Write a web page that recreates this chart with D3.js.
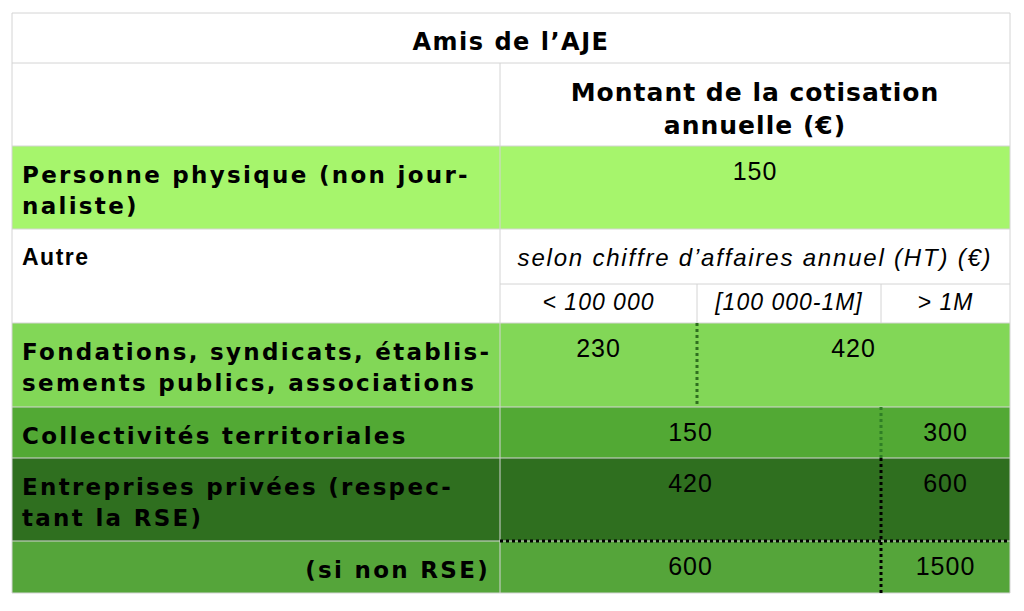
<!DOCTYPE html>
<html><head><meta charset="utf-8">
<script src="https://cdn.jsdelivr.net/npm/d3@7"></script>
<style>body{margin:0;background:#fff}</style></head>
<body><div id="chart"></div>
<script>
const title      = "Amis de l\u2019AJE";
const header     = ["Montant de la cotisation", "annuelle (\u20ac)"];
const subTitle   = "selon chiffre d\u2019affaires annuel (HT) (\u20ac)";
const brackets   = ["< 100 000", "[100 000-1M]", "> 1M"];
// row label lines, fill, values: [text, startCol, endCol]
const rowLabels  = [["Personne physique (non jour-", "naliste)"], ["Fondations, syndicats, \u00e9tablis-", "sements publics, associations"], ["Collectivit\u00e9s territoriales"], ["Entreprises priv\u00e9es (respec-", "tant la  RSE)"], ["(si non RSE)"]];
const rowFills   = ["#a6f56c", "#82d757", "#52a934", "#2f6f1f", "#55a53a"];
const rowValues  = [[["150", 0, 3]], [["230", 0, 1], ["420", 1, 3]], [["150", 0, 2], ["300", 2, 3]], [["420", 0, 2], ["600", 2, 3]], [["600", 0, 2], ["1500", 2, 3]]];

const W = 1024, H = 611;
const svg = d3.select("#chart").append("svg").attr("width", W).attr("height", H);

const left = 12, right = 1010, split = 500;
const col = d3.scaleOrdinal().domain([0, 1, 2, 3]).range([split, 697, 881, right]);
// row edges: title, header, personne, autre, sub, fondations, collectivites, entreprises, non RSE
const edges = [13, 63, 146, 229, 284, 323, 407, 458, 541, 593];
const dataRowTop = [2, 5, 6, 7, 8];
const y = i => edges[i];

const g = svg.append("g");
const grid = "#d4d4d4";
const bold = "'DejaVu Sans', Verdana, sans-serif";
const sans = "'Liberation Sans', Arial, sans-serif";

// fills
dataRowTop.forEach((r, i) => {
	g.append("rect").attr("x", left).attr("y", y(r)).attr("width", right - left).attr("height", y(r + 1) - y(r)).attr("fill", rowFills[i]);
});

// horizontal grid lines
edges.forEach((e, i) => {
	let x1 = (i === 4) ? split : left;
	g.append("line").attr("x1", x1).attr("x2", right).attr("y1", e).attr("y2", e).attr("stroke", grid);
});
// verticals
g.append("line").attr("x1", left).attr("x2", left).attr("y1", y(0)).attr("y2", y(9)).attr("stroke", grid);
g.append("line").attr("x1", right).attr("x2", right).attr("y1", y(0)).attr("y2", y(9)).attr("stroke", grid);
g.append("line").attr("x1", split).attr("x2", split).attr("y1", y(1)).attr("y2", y(9)).attr("stroke", grid);
[1, 2].forEach(c => g.append("line").attr("x1", col(c)).attr("x2", col(c)).attr("y1", y(4)).attr("y2", y(5)).attr("stroke", grid));

// dotted separators
const dot = (x1, y1, x2, y2, c) => g.append("line").attr("x1", x1).attr("y1", y1).attr("x2", x2).attr("y2", y2)
	.attr("stroke", c).attr("stroke-width", 3).attr("stroke-dasharray", "3,3");
dot(col(1), y(5), col(1), y(6), "#2f6f1f");
dot(col(2), y(6), col(2), y(7), "#2f7f25");
dot(col(2), y(7), col(2), y(9), "#000");
dot(split, y(8), right, y(8), "#000");

// title & header
g.append("text").attr("x", (left + right) / 2).attr("y", 50).attr("text-anchor", "middle")
	.attr("font-family", bold).attr("font-weight", "bold").attr("font-size", 24).attr("letter-spacing", 1.5).text(title);
header.forEach((t, i) => g.append("text").attr("x", (split + right) / 2).attr("y", 101 + i * 33)
	.attr("text-anchor", "middle").attr("font-family", bold).attr("font-weight", "bold").attr("font-size", 25)
	.attr("letter-spacing", 1).text(t));

g.append("text").attr("x", 22).attr("y", 265).attr("font-family", sans).attr("font-weight", "bold").attr("font-size", 23)
	.attr("letter-spacing", 1.5).text("Autre");
g.append("text").attr("x", (split + right) / 2).attr("y", 266).attr("text-anchor", "middle")
	.attr("font-family", sans).attr("font-style", "italic").attr("font-size", 24).attr("letter-spacing", 1.8).text(subTitle);
brackets.forEach((b, i) => g.append("text").attr("x", (col(i) + col(i + 1)) / 2).attr("y", 310)
	.attr("text-anchor", "middle").attr("font-family", sans).attr("font-style", "italic").attr("font-size", 23)
	.attr("letter-spacing", 1).text(b));

// data rows
dataRowTop.forEach((r, i) => {
	const top = y(r);
	const last = i === rowLabels.length - 1;
	rowLabels[i].forEach((t, k) => g.append("text")
		.attr("x", last ? 490 : 22).attr("text-anchor", last ? "end" : "start")
		.attr("y", top + 37 + k * 31).attr("font-family", bold).attr("font-weight", "bold").attr("font-size", 23)
		.attr("letter-spacing", 2.3).attr("fill", "#000").text(t));
	rowValues[i].forEach(([v, a, b]) => g.append("text")
		.attr("x", (col(a) + col(b)) / 2).attr("y", top + 34).attr("text-anchor", "middle")
		.attr("font-family", sans).attr("font-size", 25).attr("letter-spacing", 1).text(v));
});
</script></body></html>
